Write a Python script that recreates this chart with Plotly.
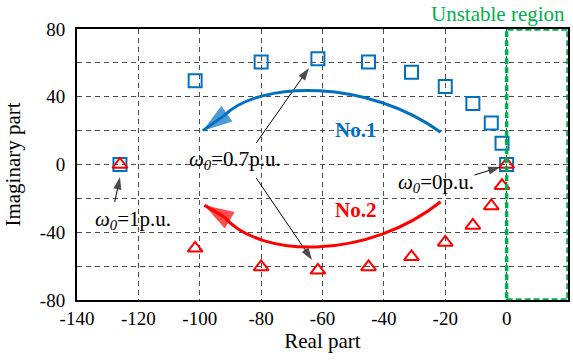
import plotly.graph_objects as go

# Eigenvalue loci (real, imaginary) as the parameter goes from 1 p.u. to 0 p.u.
real_no1 = [-126, -101.5, -80, -61.5, -45, -31, -20, -11, -5, -1.5, 0]
imag_no1 = [0, 49.5, 60.5, 62.5, 60.5, 54.5, 46, 36, 24.5, 12.5, 0]
real_no2 = [-126, -101.5, -80, -61.5, -45, -31, -20, -11, -5, -1.5, 0]
imag_no2 = [0, -49.5, -60.5, -62.5, -60.5, -54.5, -46, -36, -24.5, -12.5, 0]

x_ticks = [-140, -120, -100, -80, -60, -40, -20, 0]
y_ticks = [-80, -40, 0, 40, 80]

BLUE = "#0070C0"
RED = "#FF0000"
GREEN = "#00B050"
FONT = "Liberation Serif"

fig = go.Figure()
fig.add_trace(go.Scatter(
    x=real_no1, y=imag_no1, mode="markers",
    marker=dict(symbol="square-open", size=13, color=BLUE, line=dict(width=2, color=BLUE)),
    showlegend=False, cliponaxis=False))
fig.add_trace(go.Scatter(
    x=real_no2, y=imag_no2, mode="markers",
    marker=dict(symbol="triangle-up-open", size=13, color=RED, line=dict(width=2, color=RED)),
    showlegend=False, cliponaxis=False))

# Trend curves for the two modes
fig.add_shape(type="path", path="M -21.5,19 C -45,50 -80,50 -92,29",
              line=dict(color=BLUE, width=3), layer="above")
fig.add_shape(type="path", path="M -21.5,-22 C -45,-56 -80,-56 -92,-31",
              line=dict(color=RED, width=3), layer="above")

# Unstable region (right half plane)
fig.add_shape(type="rect", x0=0, x1=20, y0=-80, y1=80,
              line=dict(color=GREEN, width=3.5, dash="6px,3px"), layer="above")


def arrow(x_tail, y_tail, x_tip, y_tip, color, width, head):
    """Straight arrow whose head is an 'arrow' marker turned along the segment."""
    fig.add_trace(go.Scatter(
        x=[x_tail, x_tip], y=[y_tail, y_tip], mode="lines+markers",
        line=dict(color=color, width=width),
        marker=dict(symbol="arrow", size=[0, head], angleref="previous",
                    color=color, line=dict(width=0)),
        showlegend=False, hoverinfo="skip", cliponaxis=False))


# heads at the ends of the trend curves
arrow(-92, 29, -99, 20, BLUE, 3, 31)
arrow(-92, -31, -98.5, -24, RED, 3, 31)
# pointers to the labelled eigenvalues
arrow(-81.6, 12.7, -64.4, 57, "black", 1, 13)
arrow(-81.6, -8, -63.4, -56.4, "black", 1, 13)
arrow(-127.7, -22.1, -126, -7.4, "black", 1, 13)
arrow(-10.5, -6.2, -2, -1.5, "black", 1, 13)

annotations = [
    dict(x=-88.4, y=2.7, text="<i>ω</i><sub><i>0</i></sub>=0.7p.u.", showarrow=False,
         font=dict(family=FONT, size=21, color="black")),
    dict(x=-121.7, y=-32.7, text="<i>ω</i><sub><i>0</i></sub>=1p.u.", showarrow=False,
         font=dict(family=FONT, size=21, color="black")),
    dict(x=-23.1, y=-10.9, text="<i>ω</i><sub><i>0</i></sub>=0p.u.", showarrow=False,
         font=dict(family=FONT, size=21, color="black")),
    dict(x=-49.1, y=20.4, text="<b>No.1</b>", showarrow=False,
         font=dict(family=FONT, size=21, color=BLUE)),
    dict(x=-49.1, y=-26.8, text="<b>No.2</b>", showarrow=False,
         font=dict(family=FONT, size=21, color=RED)),
    dict(x=0.858, y=1.055, xref="paper", yref="paper", xanchor="center", yanchor="middle",
         text="Unstable region", showarrow=False,
         font=dict(family=FONT, size=21, color=GREEN)),
]
fig.update_layout(annotations=annotations)

fig.update_layout(
    width=573, height=361,
    margin=dict(l=77, r=3, t=29, b=61),
    paper_bgcolor="white", plot_bgcolor="white",
    font=dict(family=FONT, size=19, color="black"),
    xaxis=dict(
        range=[-140, 20], tickvals=x_ticks, ticktext=[str(v) for v in x_ticks],
        showgrid=True, gridcolor="#4d4d4d", griddash="5px,4px", gridwidth=1,
        zeroline=False, showline=True, linecolor="black", linewidth=2, mirror=True,
        ticks="", tickfont=dict(family=FONT, size=19),
        title=dict(text="Real part", font=dict(family=FONT, size=21), standoff=6),
    ),
    yaxis=dict(
        range=[-80, 80], tickvals=y_ticks, ticktext=[str(v) for v in y_ticks],
        showgrid=True, gridcolor="#4d4d4d", griddash="5px,4px", gridwidth=1,
        minor=dict(dtick=20, tick0=0, showgrid=True, gridcolor="#4d4d4d",
                   griddash="5px,4px", gridwidth=1, ticks=""),
        zeroline=False, showline=True, linecolor="black", linewidth=2, mirror=True,
        ticks="", tickfont=dict(family=FONT, size=19), ticklabelstandoff=6,
        title=dict(text="Imaginary part", font=dict(family=FONT, size=21), standoff=14),
    ),
)

fig.write_html("out.html")
